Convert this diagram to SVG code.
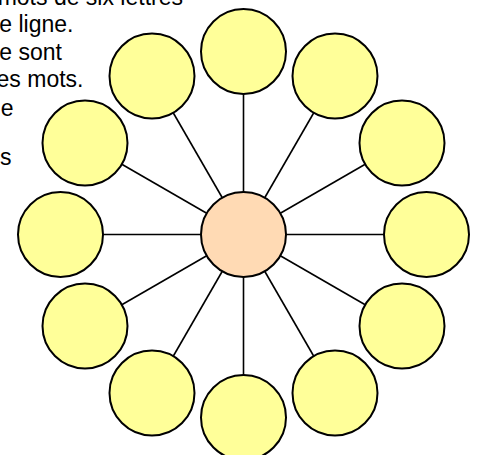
<svg xmlns="http://www.w3.org/2000/svg" width="479" height="455" viewBox="0 0 479 455">
<style>
.t{font-family:"Liberation Sans",Arial,sans-serif;font-size:23px;fill:#000;text-anchor:end}
.c{stroke:#000;stroke-width:1.6;fill:none}
.o{fill:#FFFF99;stroke:#000;stroke-width:2}
.m{fill:#FFDAB4;stroke:#000;stroke-width:2}
</style>
<rect width="479" height="455" fill="#fff"/>
<g id="text">
<text class="t" x="183" y="5">mots de six lettres</text>
<text class="t" x="73.5" y="32">e ligne.</text>
<text class="t" x="62" y="59.5">e sont</text>
<text class="t" x="83.5" y="86.5">es mots.</text>
<text class="t" x="13.5" y="116">e</text>
<text class="t" x="11.5" y="165">s</text>
</g>
<g id="connectors">
<line class="c" x1="243.5" y1="234.5" x2="243.5" y2="51.5"/>
<line class="c" x1="243.5" y1="234.5" x2="335" y2="76"/>
<line class="c" x1="243.5" y1="234.5" x2="402" y2="143"/>
<line class="c" x1="243.5" y1="234.5" x2="426.5" y2="234.5"/>
<line class="c" x1="243.5" y1="234.5" x2="402" y2="326"/>
<line class="c" x1="243.5" y1="234.5" x2="335" y2="393"/>
<line class="c" x1="243.5" y1="234.5" x2="243.5" y2="417.5"/>
<line class="c" x1="243.5" y1="234.5" x2="152" y2="393"/>
<line class="c" x1="243.5" y1="234.5" x2="85" y2="326"/>
<line class="c" x1="243.5" y1="234.5" x2="60.5" y2="234.5"/>
<line class="c" x1="243.5" y1="234.5" x2="85" y2="143"/>
<line class="c" x1="243.5" y1="234.5" x2="152" y2="76"/>
</g>
<g id="n0"><circle class="o" cx="243.5" cy="51.5" r="42.5"/></g>
<g id="n1"><circle class="o" cx="335" cy="76" r="42.5"/></g>
<g id="n2"><circle class="o" cx="402" cy="143" r="42.5"/></g>
<g id="n3"><circle class="o" cx="426.5" cy="234.5" r="42.5"/></g>
<g id="n4"><circle class="o" cx="402" cy="326" r="42.5"/></g>
<g id="n5"><circle class="o" cx="335" cy="393" r="42.5"/></g>
<g id="n6"><circle class="o" cx="243.5" cy="417.5" r="42.5"/></g>
<g id="n7"><circle class="o" cx="152" cy="393" r="42.5"/></g>
<g id="n8"><circle class="o" cx="85" cy="326" r="42.5"/></g>
<g id="n9"><circle class="o" cx="60.5" cy="234.5" r="42.5"/></g>
<g id="n10"><circle class="o" cx="85" cy="143" r="42.5"/></g>
<g id="n11"><circle class="o" cx="152" cy="76" r="42.5"/></g>
<g id="center"><circle class="m" cx="243.5" cy="234.5" r="42.5"/></g>
</svg>
